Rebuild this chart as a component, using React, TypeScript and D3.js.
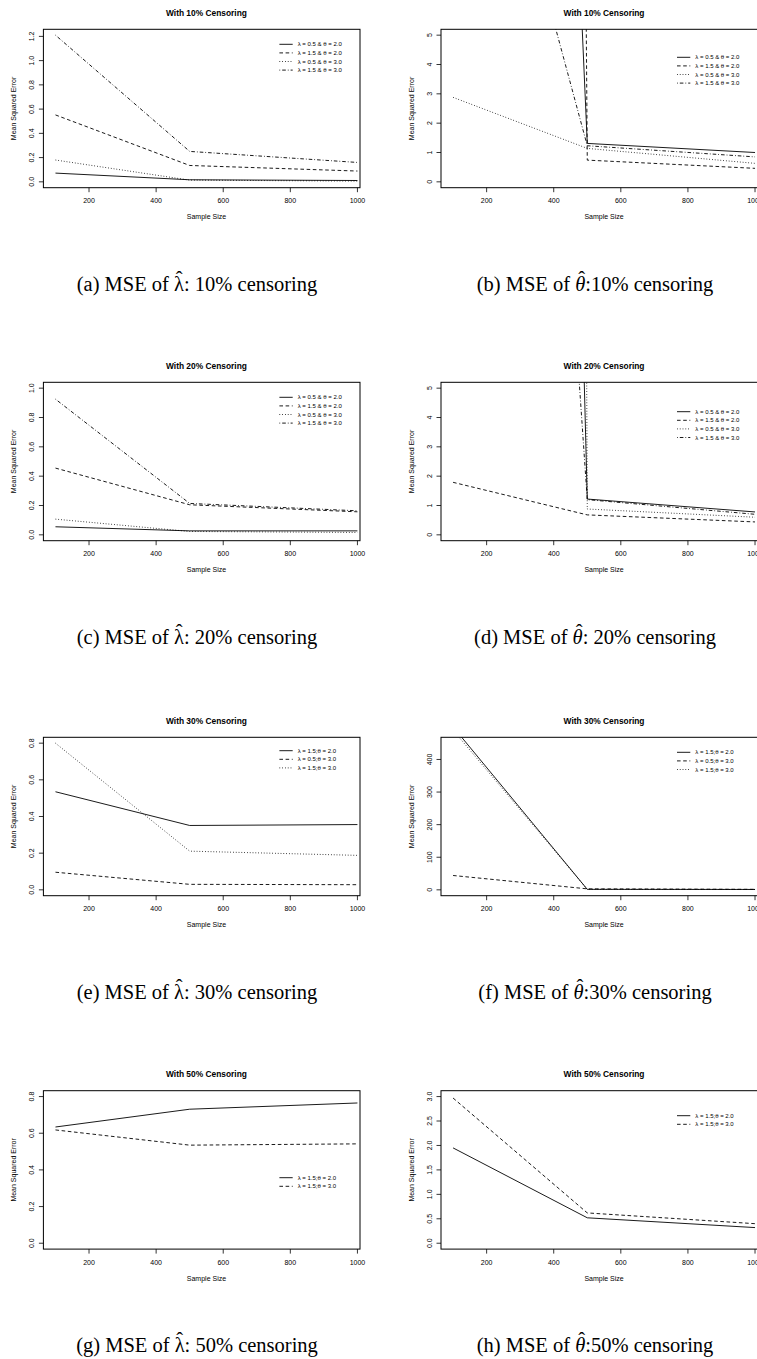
import React, { useEffect, useRef } from "react";
import * as d3 from "d3";

// sample sizes on the x axis (same for all panels)
const sampleSizes = [100, 500, 1000];
const xTicks = [200, 400, 600, 800, 1000];

// (a) MSE of lambda, 10% censoring
const lam10_l05t20 = [0.072, 0.017, 0.011];
const lam10_l15t20 = [0.552, 0.135, 0.089];
const lam10_l05t30 = [0.18, 0.014, 0.006];
const lam10_l15t30 = [1.21, 0.251, 0.16];
// (b) MSE of theta, 10% censoring
const th10_l05t20 = [105, 1.31, 1.0];
const th10_l15t20 = [600, 0.74, 0.46];
const th10_l05t30 = [2.88, 1.14, 0.63];
const th10_l15t30 = [18.2, 1.23, 0.85];
// (c) MSE of lambda, 20% censoring
const lam20_l05t20 = [0.055, 0.027, 0.027];
const lam20_l15t20 = [0.455, 0.205, 0.157];
const lam20_l05t30 = [0.107, 0.023, 0.016];
const lam20_l15t30 = [0.925, 0.214, 0.164];
// (d) MSE of theta, 20% censoring
const th20_l05t20 = [178, 1.22, 0.78];
const th20_l15t20 = [1.79, 0.68, 0.44];
const th20_l05t30 = [1000, 0.88, 0.6];
const th20_l15t30 = [68, 1.2, 0.7];
// (e) MSE of lambda, 30% censoring
const lam30_l15t20 = [0.535, 0.351, 0.356];
const lam30_l05t30 = [0.096, 0.03, 0.028];
const lam30_l15t30 = [0.8, 0.211, 0.188];
// (f) MSE of theta, 30% censoring
const th30_l15t20 = [500, 1.5, 1.2];
const th30_l05t30 = [44, 3, 1.5];
const th30_l15t30 = [490, 1.5, 1.0];
// (g) MSE of lambda, 50% censoring
const lam50_l15t20 = [0.634, 0.731, 0.765];
const lam50_l15t30 = [0.618, 0.535, 0.542];
// (h) MSE of theta, 50% censoring
const th50_l15t20 = [1.95, 0.52, 0.32];
const th50_l15t30 = [2.97, 0.62, 0.4];

// legend labels
const legendFour = ["λ = 0.5 & θ = 2.0", "λ = 1.5 & θ = 2.0", "λ = 0.5 & θ = 3.0", "λ = 1.5 & θ = 3.0"];
const legend30 = ["λ = 1.5;θ = 2.0", "λ = 0.5;θ = 3.0", "λ = 1.5;θ = 3.0"];
const legend50 = ["λ = 1.5;θ = 2.0", "λ = 1.5;θ = 3.0"];

// y tick values
const ticksLam10 = [0, 0.2, 0.4, 0.6, 0.8, 1.0, 1.2];
const ticksLam20 = [0, 0.2, 0.4, 0.6, 0.8, 1.0];
const ticksLam30 = [0, 0.2, 0.4, 0.6, 0.8];
const ticksTheta = [0, 1, 2, 3, 4, 5];
const ticksTh30 = [0, 100, 200, 300, 400];
const ticksTh50 = [0, 0.5, 1.0, 1.5, 2.0, 2.5, 3.0];

// R style axis range (4% padding each side)
const rExt = (lo: number, hi: number) => [lo - 0.04 * (hi - lo), hi + 0.04 * (hi - lo)];

const dashes: Record<string, string | null> = {
  solid: null,
  dashed: "3.6,2.6",
  dotted: "0.8,2",
  dotdash: "0.8,2,3.6,2",
};

const rowTops = [29.3, 382.3, 737.3, 1090.7];
const boxH = 158.4;
const leftX0 = 43.4;
const rightX0 = 441;
const xSpan = 326.1;

const panels = [
  { col: 0, row: 0, pct: "10", est: "lambda", cap: "(a) MSE of ", sep: ": ", dom: rExt(0, 1.21), ticks: ticksLam10, fmt: ".1f",
    series: [lam10_l05t20, lam10_l15t20, lam10_l05t30, lam10_l15t30], types: ["solid", "dashed", "dotted", "dotdash"], legend: legendFour, legTop: 15 },
  { col: 1, row: 0, pct: "10", est: "theta", cap: "(b) MSE of ", sep: ":", dom: rExt(0, 5), ticks: ticksTheta, fmt: "d",
    series: [th10_l05t20, th10_l15t20, th10_l05t30, th10_l15t30], types: ["solid", "dashed", "dotted", "dotdash"], legend: legendFour, legTop: 28 },
  { col: 0, row: 1, pct: "20", est: "lambda", cap: "(c) MSE of ", sep: ": ", dom: rExt(0, 1), ticks: ticksLam20, fmt: ".1f",
    series: [lam20_l05t20, lam20_l15t20, lam20_l05t30, lam20_l15t30], types: ["solid", "dashed", "dotted", "dotdash"], legend: legendFour, legTop: 15 },
  { col: 1, row: 1, pct: "20", est: "theta", cap: "(d) MSE of ", sep: ": ", dom: rExt(0, 5), ticks: ticksTheta, fmt: "d",
    series: [th20_l05t20, th20_l15t20, th20_l05t30, th20_l15t30], types: ["solid", "dashed", "dotted", "dotdash"], legend: legendFour, legTop: 29.4 },
  { col: 0, row: 2, pct: "30", est: "lambda", cap: "(e) MSE of ", sep: ": ", dom: rExt(0, 0.8), ticks: ticksLam30, fmt: ".1f",
    series: [lam30_l15t20, lam30_l05t30, lam30_l15t30], types: ["solid", "dashed", "dotted"], legend: legend30, legTop: 13.4 },
  { col: 1, row: 2, pct: "30", est: "theta", cap: "(f) MSE of ", sep: ":", dom: rExt(0, 450), ticks: ticksTh30, fmt: "d",
    series: [th30_l15t20, th30_l05t30, th30_l15t30], types: ["solid", "dashed", "dotted"], legend: legend30, legTop: 15 },
  { col: 0, row: 3, pct: "50", est: "lambda", cap: "(g) MSE of ", sep: ": ", dom: rExt(0, 0.8), ticks: ticksLam30, fmt: ".1f",
    series: [lam50_l15t20, lam50_l15t30], types: ["solid", "dashed"], legend: legend50, legTop: 87 },
  { col: 1, row: 3, pct: "50", est: "theta", cap: "(h) MSE of ", sep: ":", dom: rExt(0, 3), ticks: ticksTh50, fmt: ".1f",
    series: [th50_l15t20, th50_l15t30], types: ["solid", "dashed"], legend: legend50, legTop: 25 },
];

const App = () => {
  const svgRef = useRef<SVGSVGElement>(null);

  useEffect(() => {
    const svg = d3.select(svgRef.current);
    svg.selectAll("*").remove();
    svg.append("rect").attr("width", 757).attr("height", 1359).attr("fill", "#fff");

    panels.forEach((p, i) => {
      const x0 = p.col === 0 ? leftX0 : rightX0;
      const top = rowTops[p.row];
      const bottom = top + boxH;
      // left column picture is cut at 360px
      const boxRight = p.col === 0 ? 360 : x0 + xSpan;

      const x = d3.scaleLinear().domain([64, 1036]).range([x0, x0 + xSpan]);
      const y = d3.scaleLinear().domain(p.dom).range([bottom, top]);

      const g = svg.append("g").attr("font-family", "'Liberation Sans', Arial, sans-serif").attr("fill", "#000");

      const clipId = `clip-${i}`;
      svg.append("clipPath").attr("id", clipId)
        .append("rect").attr("x", x0).attr("y", top).attr("width", boxRight - x0).attr("height", boxH);

      // title
      g.append("text")
        .attr("x", x0 + xSpan / 2).attr("y", top - 13.7)
        .attr("text-anchor", "middle").attr("font-weight", "bold").attr("font-size", 8.4)
        .text(`With ${p.pct}% Censoring`);

      // data lines
      const line = d3.line<number>().x((_, k) => x(sampleSizes[k])).y(d => y(d));
      p.series.forEach((s, k) => {
        g.append("path")
          .datum(s)
          .attr("clip-path", `url(#${clipId})`)
          .attr("d", line)
          .attr("fill", "none")
          .attr("stroke", "#000")
          .attr("stroke-width", 0.9)
          .attr("stroke-dasharray", dashes[p.types[k]]);
      });

      // box
      g.append("rect")
        .attr("x", x0).attr("y", top).attr("width", boxRight - x0).attr("height", boxH)
        .attr("fill", "none").attr("stroke", "#000").attr("stroke-width", 1);

      // x axis ticks
      xTicks.forEach(t => {
        g.append("line").attr("x1", x(t)).attr("x2", x(t)).attr("y1", bottom).attr("y2", bottom + 4.5)
          .attr("stroke", "#000").attr("stroke-width", 0.8);
        g.append("text").attr("x", x(t)).attr("y", bottom + 15.5)
          .attr("text-anchor", "middle").attr("font-size", 7).text(t);
      });
      g.append("text").attr("x", x0 + xSpan / 2).attr("y", bottom + 31.5)
        .attr("text-anchor", "middle").attr("font-size", 7).text("Sample Size");

      // y axis ticks
      const fmt = d3.format(p.fmt);
      p.ticks.forEach(t => {
        g.append("line").attr("x1", x0 - 4.5).attr("x2", x0).attr("y1", y(t)).attr("y2", y(t))
          .attr("stroke", "#000").attr("stroke-width", 0.8);
        g.append("text")
          .attr("transform", `translate(${x0 - 9.2},${y(t)}) rotate(-90)`)
          .attr("text-anchor", "middle").attr("font-size", 7).text(fmt(t));
      });
      g.append("text")
        .attr("transform", `translate(${x0 - 27},${(top + bottom) / 2}) rotate(-90)`)
        .attr("text-anchor", "middle").attr("font-size", 7).text("Mean Squared Error");

      // legend
      p.legend.forEach((lab, k) => {
        const ly = top + p.legTop + k * 8.6;
        g.append("line").attr("x1", x0 + 236).attr("x2", x0 + 249.3).attr("y1", ly).attr("y2", ly)
          .attr("stroke", "#000").attr("stroke-width", 0.9)
          .attr("stroke-dasharray", dashes[p.types[k]]);
        g.append("text").attr("x", x0 + 254.3).attr("y", ly + 2.1)
          .attr("font-size", 6).text(lab);
      });

      // caption under the panel, with a hat drawn over the estimator symbol
      const capY = top + 261.7;
      const cap = svg.append("text")
        .attr("x", p.col === 0 ? 197 : 595).attr("y", capY)
        .attr("text-anchor", "middle")
        .attr("font-family", "'Liberation Serif', 'Times New Roman', serif")
        .attr("font-size", 20.5).attr("fill", "#000");
      cap.append("tspan").text(p.cap);
      cap.append("tspan")
        .attr("font-style", p.est === "theta" ? "italic" : "normal")
        .text(p.est === "theta" ? "θ" : "λ");
      cap.append("tspan").text(`${p.sep}${p.pct}% censoring`);

      const node = cap.node() as SVGTextElement;
      const ext = node.getExtentOfChar(p.cap.length);
      const hatX = ext.x + ext.width / 2 + (p.est === "theta" ? 1.5 : 0);
      svg.append("text")
        .attr("x", hatX).attr("y", capY - 5)
        .attr("text-anchor", "middle")
        .attr("font-family", "'Liberation Serif', 'Times New Roman', serif")
        .attr("font-size", 20.5).attr("fill", "#000")
        .text("ˆ");
    });
  }, []);

  return (
    <svg ref={svgRef} width={757} height={1359}
      style={{ position: "absolute", left: 0, top: 0, display: "block" }} />
  );
};

export default App;
